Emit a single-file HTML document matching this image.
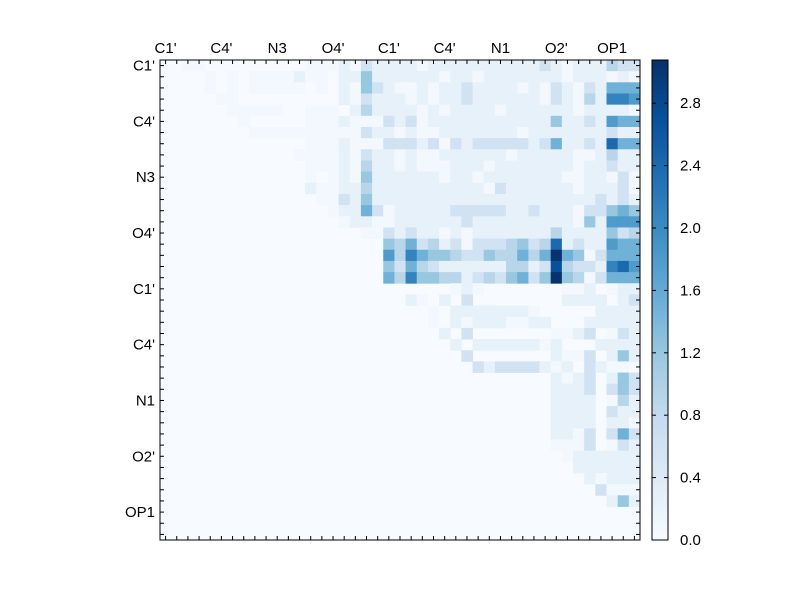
<!DOCTYPE html>
<html><head><meta charset="utf-8"><style>
body{margin:0;background:#fff;width:800px;height:600px;overflow:hidden}
svg text{font-family:"Liberation Sans","DejaVu Sans",sans-serif;font-size:15px;fill:#000}
</style></head><body>
<svg id="s" width="800" height="600" xmlns="http://www.w3.org/2000/svg"></svg>
<script>
const N=43,X0=160,Y0=60,W=480,c=W/N;
const M=[];for(let r=0;r<N;r++)M.push(new Array(N).fill(-1));
function sp(r,str){str.split(' ').forEach(p=>{if(!p)return;const [a,b]=p.split(':');M[r][+a]=b;});}
const dense=["2111101111111111210111322","4111111011011111110111010","4210010112111101021021555","2111010112111111021031776","3111101011110111111011110","0021201111111111141121655","2110100111111101111111211","0022212021222221251121855","2110100111111011111001311","3110100011101111111011211","4111111011011111110011020","3111111111102111111011120","4111111111111111111112121","5201111122222112111022454","1001111112111111111041666","0021211010111111131111423","..43523120222342381211655","..637544322433535a5402555","..42532111111331293221786","..537443312324524a4302555"];
dense.forEach((s,r)=>{for(let i=0;i<25;i++)M[r][18+i]=s[i];});
const left=["2:0 3:0 13:0 14:0 15:0 16:1 17:0","4:0 6:0 8:0 9:0 10:0 11:0 12:1 13:0 14:0 16:1 17:1","4:0 6:0 8:0 9:0 10:0 11:0 12:0 14:0 16:1 17:0","5:0 6:0 16:1 17:0","6:0 7:0 8:0 9:0 10:0 13:0 14:0 15:0 17:1","7:0 13:0 14:0 15:0 16:1 17:0","8:0 9:0 10:0 11:0 12:0 13:0 14:0 15:0 16:0 17:0","13:0 14:0 15:0 16:1 17:0","12:0 13:0 14:0 15:0 16:1 17:0","13:0 14:0 15:0 16:1 17:0","13:0 15:0 16:1 17:0","13:1 14:0 15:0 16:1 17:1","14:0 15:0 16:2 17:1","15:0 16:1 17:1","16:0 17:1"];
left.forEach((s,r)=>sp(r,s));
const low={20:"26:0 27:1 28:0 36:0 37:0 38:1 40:0 41:1 42:1",21:"22:1 23:0 25:1 27:2 36:1 37:1 38:1 39:1 41:1 42:2",22:"24:0 26:1 27:1 28:1 29:1 30:1 31:1 32:1 33:0 39:1 40:1 41:1 42:1",23:"24:0 26:1 27:0 28:1 29:1 30:1 31:0 32:0 33:1 34:1 38:1 39:1 40:1 41:1 42:1",24:"25:1 27:2 35:0 36:0 37:1 38:2 40:0 41:2 42:1",25:"26:1 28:1 29:1 30:1 31:1 32:1 33:1 34:0 35:1 39:1 40:1 41:1 42:1",26:"27:2 35:1 36:0 37:0 38:2 40:1 41:4 42:1",27:"28:2 29:1 30:2 31:2 32:2 33:2 34:1 35:0 36:1 38:2 39:1 40:0 41:0",28:"35:1 36:0 37:1 38:2 40:1 41:4 42:2",29:"35:1 36:1 37:1 38:2 40:2 41:4 42:2",30:"35:1 36:1 37:1 38:1 40:0 41:3 42:1",31:"35:1 36:1 37:1 38:1 40:2 41:1 42:1",32:"35:1 36:1 37:1 38:1 40:1 41:1 42:0",33:"35:1 36:1 37:0 38:2 40:2 41:5 42:2",34:"35:0 36:0 37:0 38:2 40:0 41:2 42:1",35:"36:0 37:1 38:1 39:1 40:1 41:1 42:1",36:"37:1 38:1 39:1 40:1 41:1 42:1",37:"38:1 39:0 40:1 41:1 42:1",38:"39:2 40:0 41:0 42:0",39:"40:1 41:4 42:1"};
for(const k in low)sp(+k,low[k]);
const stops=[[247,251,255],[222,235,247],[198,219,239],[158,202,225],[107,174,214],[66,146,198],[33,113,181],[8,81,156],[8,48,107]];
function col(t){t=Math.max(0,Math.min(1,t))*8;const i=Math.min(7,Math.floor(t)),f=t-i;const a=stops[i],b=stops[i+1];return `rgb(${a.map((v,k)=>Math.round(v+(b[k]-v)*f)).join(',')})`;}
function val(ch){if(ch===-1||ch==='.')return 0;if(ch==='0')return 0.08;if(ch==='1')return 0.25;if(ch==='a')return 3.05;return (+ch)*0.3;}
const VM=3.077;let h='';
h+=`<rect x="${X0}" y="${Y0}" width="${W}" height="${W}" fill="${col(0)}"/>`;
for(let r=0;r<N;r++)for(let q=0;q<N;q++){const v=val(M[r][q]);if(v>0)h+=`<rect x="${(X0+q*c).toFixed(2)}" y="${(Y0+r*c).toFixed(2)}" width="${(c+0.4).toFixed(2)}" height="${(c+0.4).toFixed(2)}" fill="${col(v/VM)}"/>`;}
for(let i=0;i<N;i++){const p=X0+(i+0.5)*c,py=Y0+(i+0.5)*c;h+=`<line x1="${p}" y1="${Y0}" x2="${p}" y2="${Y0+4}" stroke="#000"/><line x1="${p}" y1="${Y0+W}" x2="${p}" y2="${Y0+W-4}" stroke="#000"/><line x1="${X0}" y1="${py}" x2="${X0+4}" y2="${py}" stroke="#000"/><line x1="${X0+W}" y1="${py}" x2="${X0+W-4}" y2="${py}" stroke="#000"/>`;}
h+=`<rect x="${X0}" y="${Y0}" width="${W}" height="${W}" fill="none" stroke="#000"/>`;
const labs=["C1'","C4'","N3","O4'","C1'","C4'","N1","O2'","OP1"];
labs.forEach((l,i)=>{const p=X0+(i*5+0.5)*c,py=Y0+(i*5+0.5)*c;h+=`<text x="${p}" y="53" text-anchor="middle">${l}</text><text x="155" y="${py+5}" text-anchor="end">${l}</text>`;});
const cx=652,cw=16;
h+=`<defs><linearGradient id="g" x1="0" y1="1" x2="0" y2="0">${stops.map((s,i)=>`<stop offset="${i/8}" stop-color="rgb(${s})"/>`).join('')}</linearGradient></defs>`;
h+=`<rect x="${cx}" y="60" width="${cw}" height="480" fill="url(#g)" stroke="#000"/>`;
for(let k=0;k<=7;k++){const v=k*0.4,y=540-v/VM*480;h+=`<line x1="${cx}" y1="${y}" x2="${cx+4}" y2="${y}" stroke="#000"/><line x1="${cx+cw}" y1="${y}" x2="${cx+cw-4}" y2="${y}" stroke="#000"/><text x="680" y="${y+5}">${v.toFixed(1)}</text>`;}
document.getElementById('s').innerHTML=h;
</script>
</body></html>
